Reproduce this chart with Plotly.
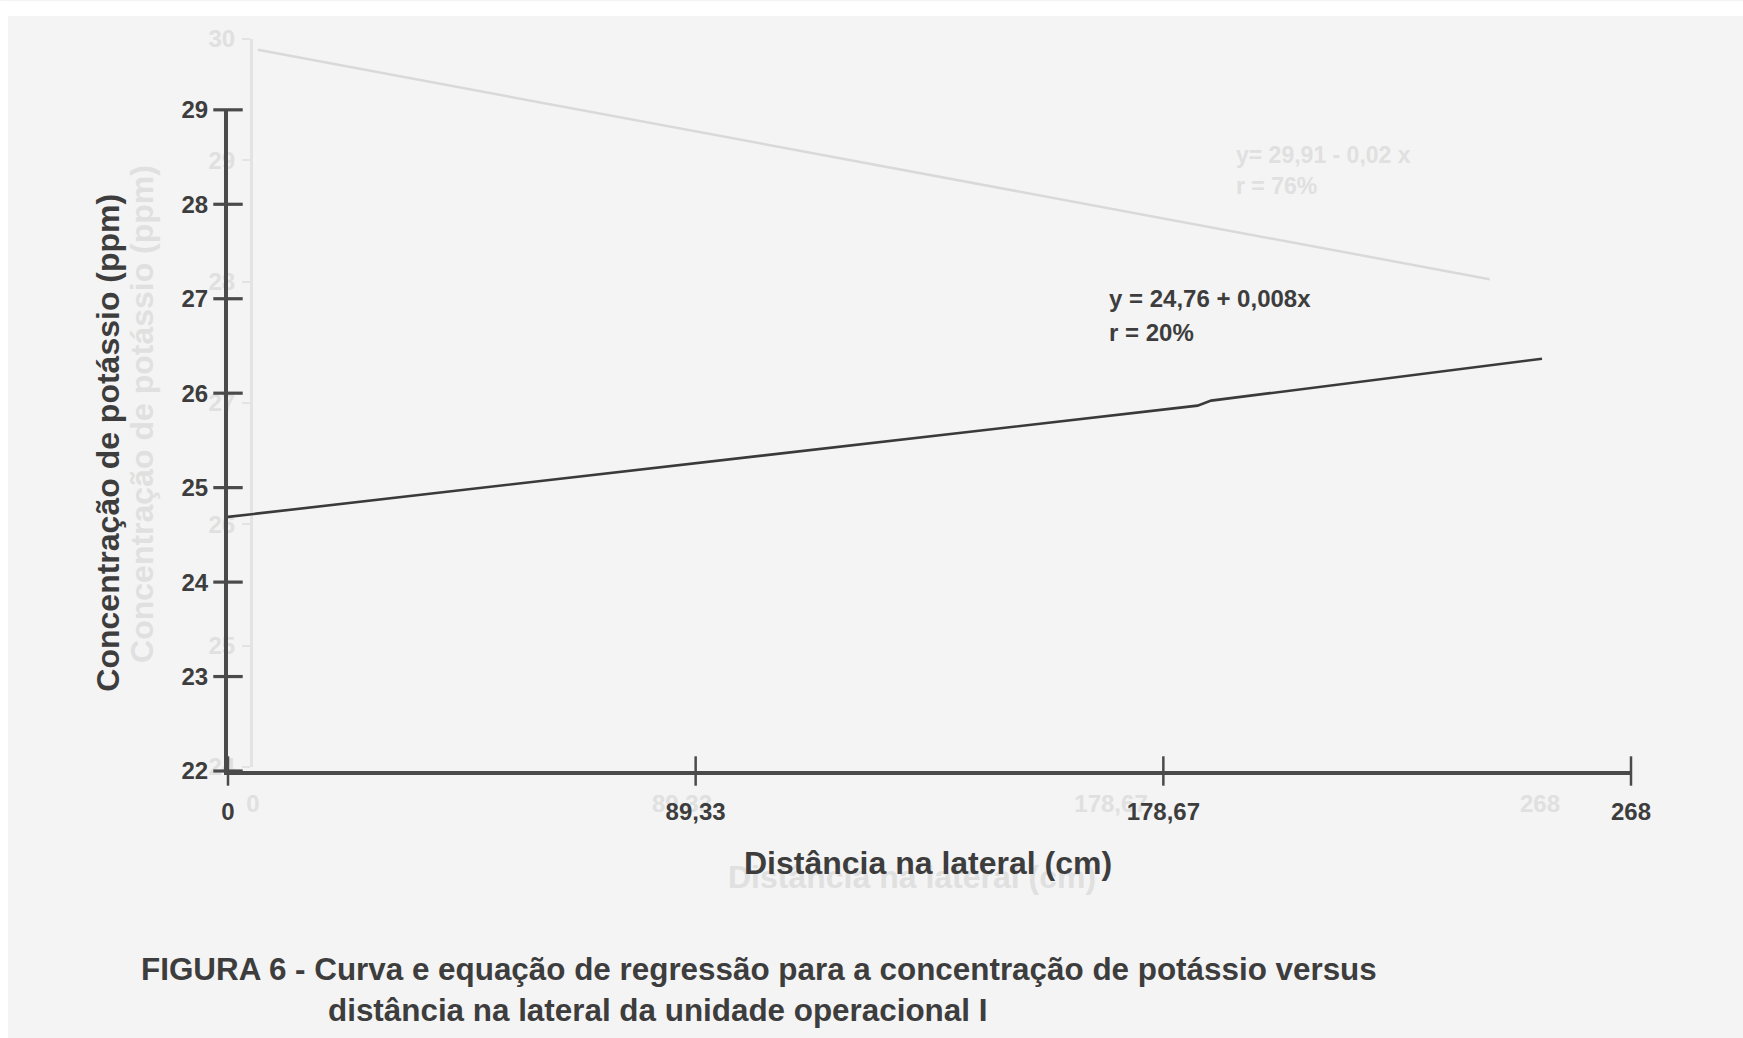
import plotly.graph_objects as go

# ---- data -------------------------------------------------------------
# Regression line of potassium concentration along the lateral
dist_cm = [0.0, 185.2, 187.8, 251.0]
potassio_ppm = [24.69, 25.868, 25.921, 26.365]

x_tickvals = [0.0, 89.33, 178.67, 268.0]
x_ticktext = ["0", "89,33", "178,67", "268"]
y_tickvals = [22, 23, 24, 25, 26, 27, 28, 29]
y_ticktext = ["22", "23", "24", "25", "26", "27", "28", "29"]

eq_text = "y = 24,76 + 0,008x"
r_text = "r = 20%"

# faint figure printed on the reverse side of the sheet
verso_dist = [1.0, 257.5]
verso_ppm = [29.91, 28.02]
verso_y_ticks = [24, 25, 26, 27, 28, 29, 30]
verso_eq = "y= 29,91 - 0,02 x"
verso_r = "r = 76%"

# ---- style ------------------------------------------------------------
FONT = "Arial, 'Liberation Sans', Helvetica, sans-serif"
INK = "#3d3d3d"
AXIS = "#4a4a4a"
GHOST_LINE = "#d9d9d9"
GHOST_TEXT = "#e0e0e0"
PAPER = "#f4f4f4"

W, H = 1743, 1038
L, R, T, B = 228, 112, 20, 267
PW, PH = W - L - R, H - T - B


def px(x):
    return (x - L) / PW


def py(y):
    return (H - B - y) / PH


fig = go.Figure()

# verso (drawn first, underneath)
fig.add_trace(go.Scatter(
    x=verso_dist, y=verso_ppm, mode="lines", xaxis="x", yaxis="y",
    line=dict(color=GHOST_LINE, width=2.5), hoverinfo="skip", showlegend=False,
))

# main regression line
fig.add_trace(go.Scatter(
    x=dist_cm, y=potassio_ppm, mode="lines", xaxis="x2", yaxis="y2",
    line=dict(color="#3a3a3a", width=2.6), hoverinfo="skip", showlegend=False,
))

# tick marks crossing the axes
fig.add_trace(go.Scatter(
    x=x_tickvals, y=[y_tickvals[0]] * len(x_tickvals), mode="markers",
    xaxis="x2", yaxis="y2", cliponaxis=False,
    marker=dict(symbol="line-ns", size=21, line=dict(color=AXIS, width=2.5)),
    hoverinfo="skip", showlegend=False,
))
fig.add_trace(go.Scatter(
    x=[x_tickvals[0]] * len(y_tickvals), y=y_tickvals, mode="markers",
    xaxis="x2", yaxis="y2", cliponaxis=False,
    marker=dict(symbol="line-ew", size=21, line=dict(color=AXIS, width=3.2)),
    hoverinfo="skip", showlegend=False,
))

main_y_top = py(104.5)

fig.update_layout(
    width=W, height=H,
    margin=dict(l=L, r=R, t=T, b=B),
    paper_bgcolor=PAPER,
    plot_bgcolor="rgba(0,0,0,0)",
    font=dict(family=FONT, color=INK),
    showlegend=False,
    # verso axes
    xaxis=dict(
        domain=[px(253), px(1540)], range=[0, 268], anchor="y",
        showline=False, showgrid=False, zeroline=False, ticks="",
        tickvals=x_tickvals, ticktext=x_ticktext, ticklabelstandoff=20,
        tickfont=dict(size=24, color=GHOST_TEXT, weight="bold"),
    ),
    yaxis=dict(
        domain=[py(767), py(33)], range=[24, 30], anchor="x",
        showline=True, linecolor="#e3e3e3", linewidth=3,
        showgrid=False, zeroline=False, ticks="outside", ticklen=8,
        tickcolor="#e3e3e3", tickwidth=2,
        tickvals=verso_y_ticks, ticklabelstandoff=2,
        tickfont=dict(size=24, color=GHOST_TEXT, weight="bold"),
    ),
    # main axes
    xaxis2=dict(
        domain=[0, 1], range=[0, 268], anchor="y2",
        showline=True, linecolor=AXIS, linewidth=4,
        showgrid=False, zeroline=False, ticks="",
        tickvals=x_tickvals, ticktext=x_ticktext, ticklabelstandoff=16,
        tickfont=dict(size=24, color=INK, weight="bold"),
    ),
    yaxis2=dict(
        domain=[0, main_y_top], range=[22, 29], anchor="x2",
        showline=True, linecolor=AXIS, linewidth=4,
        showgrid=False, zeroline=False, ticks="",
        tickvals=y_tickvals, ticktext=y_ticktext, ticklabelstandoff=11,
        tickfont=dict(size=24, color=INK, weight="bold"),
    ),
)

# white scanner edge along the top and left of the sheet
fig.add_shape(
    type="rect", xref="paper", yref="paper", layer="below",
    x0=px(-5), x1=px(W + 5), y0=py(10), y1=py(-5),
    fillcolor="#ffffff", line=dict(width=0),
)
fig.add_shape(
    type="rect", xref="paper", yref="paper", layer="below",
    x0=px(-5), x1=px(8), y0=py(H + 5), y1=py(-5),
    fillcolor="#ffffff", line=dict(width=0),
)


def note(text, x, y, size, color=INK, xanchor="left", angle=0):
    fig.add_annotation(
        text=text, xref="paper", yref="paper", x=px(x), y=py(y),
        xanchor=xanchor, yanchor="middle", showarrow=False, textangle=angle,
        font=dict(family=FONT, size=size, color=color, weight="bold"),
    )


# verso texts
note(verso_eq, 1234, 150, 23, GHOST_TEXT)
note(verso_r, 1234, 181, 23, GHOST_TEXT)
note("Distância na lateral (cm)", 912, 878, 32, GHOST_TEXT, "center")
note("Concentração de potássio (ppm)", 142, 411, 32, GHOST_TEXT, "center", -90)

# axis titles
note("Distância na lateral (cm)", 928, 864, 32, INK, "center")
note("Concentração de potássio (ppm)", 108, 440, 32, INK, "center", -90)

# regression equation
note(eq_text, 1107, 295, 24)
note(r_text, 1107, 329, 24)

# caption
note("FIGURA 6 - Curva e equação de regressão para a concentração de potássio versus",
     139, 971, 31.4)
note("distância na lateral da unidade operacional I", 326, 1012, 31.4)

fig.write_html("out.html")
